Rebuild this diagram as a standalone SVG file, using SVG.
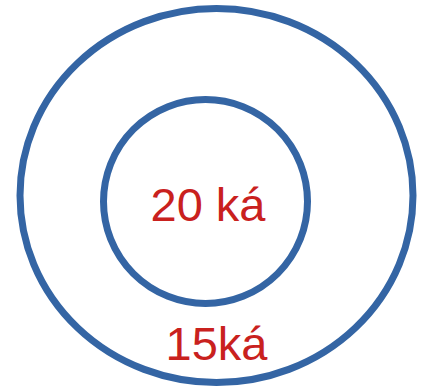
<svg xmlns="http://www.w3.org/2000/svg" width="422" height="389" viewBox="0 0 422 389">
<style>
.ring{fill:none;stroke:#3465a4;stroke-width:7}
.lbl{font-family:"Liberation Sans",Arial,sans-serif;font-size:47px;fill:#c9211e;text-anchor:middle}
</style>
<rect width="422" height="389" fill="#ffffff"/>
<g id="outer">
<ellipse class="ring" cx="216.5" cy="195.5" rx="196.5" ry="187"/>
<text class="lbl" x="216.5" y="360">15ká</text>
</g>
<g id="inner">
<ellipse class="ring" cx="205.5" cy="201.5" rx="102" ry="102"/>
<text class="lbl" x="208" y="221">20 ká</text>
</g>
<g id="connectors"/>
</svg>
